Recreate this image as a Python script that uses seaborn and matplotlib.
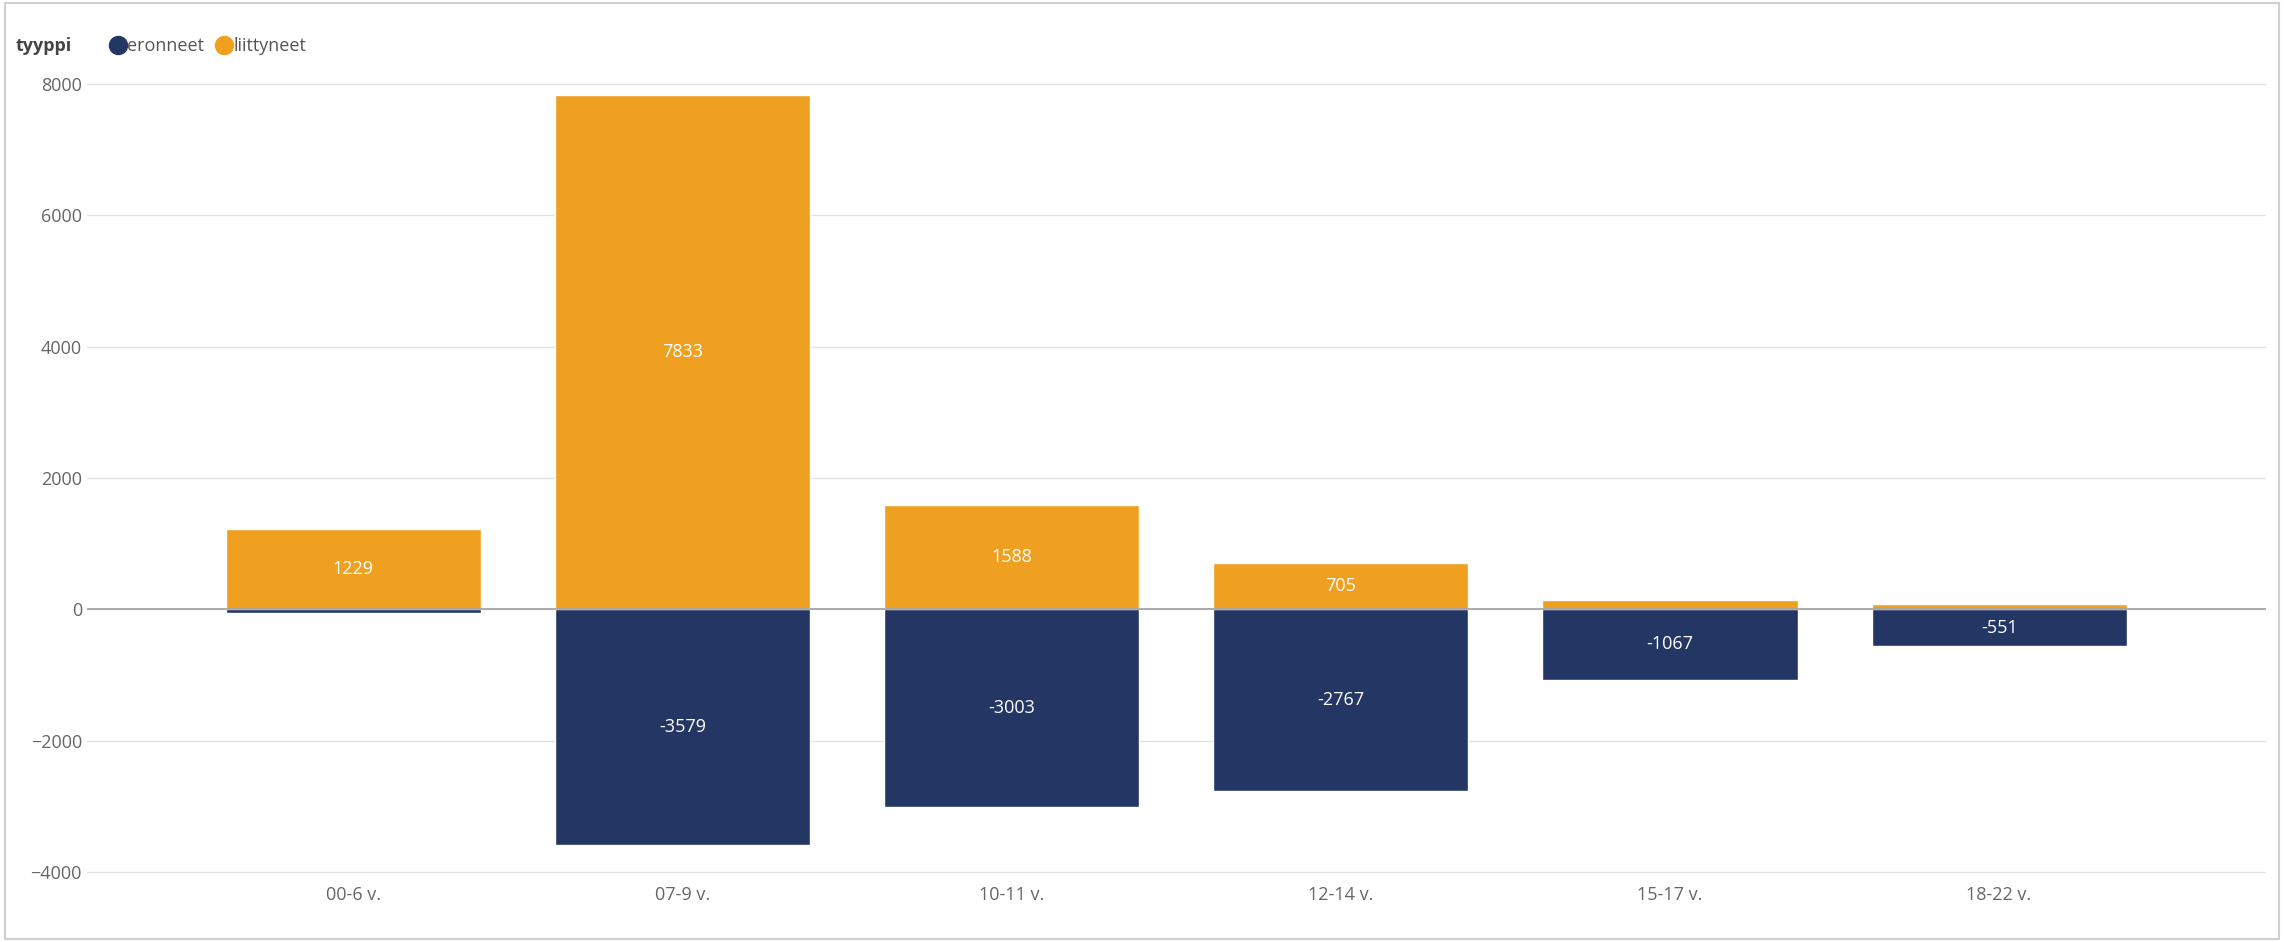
import matplotlib
matplotlib.use("Agg")
import matplotlib.pyplot as plt
import seaborn as sns
import pandas as pd
from matplotlib.lines import Line2D

categories = ["00-6 v.", "07-9 v.", "10-11 v.", "12-14 v.", "15-17 v.", "18-22 v."]
liittyneet = [1229, 7833, 1588, 705, 150, 75]
eronneet = [-60, -3579, -3003, -2767, -1067, -551]
label_liitt = ["1229", "7833", "1588", "705", "", ""]
label_eron = ["", "-3579", "-3003", "-2767", "-1067", "-551"]

sns.set_theme(style="white")
plt.rcParams['font.family'] = ['Open Sans', 'DejaVu Sans']

orange = "#EFA020"
navy = "#243664"
fig = plt.figure(figsize=(22.84, 9.42), dpi=100)
ax = fig.add_axes([0.038, 0.065, 0.954, 0.86])
df = pd.DataFrame({"cat": categories, "l": liittyneet, "e": eronneet})
sns.barplot(data=df, x="cat", y="l", color=orange, saturation=1, width=0.775, ax=ax)
sns.barplot(data=df, x="cat", y="e", color=navy, saturation=1, width=0.775, ax=ax)
ax.set_xlim(-0.81, 5.81)
ax.set_ylim(-4130, 8200)
ax.set_yticks([-4000, -2000, 0, 2000, 4000, 6000, 8000])
ax.grid(axis="y", color="#E3E3E3", lw=1)
ax.set_axisbelow(True)
ax.axhline(0, color="#A0A0A0", lw=1.2)
for s in ax.spines.values():
    s.set_visible(False)
ax.set_xlabel(""); ax.set_ylabel("")
ax.tick_params(axis="both", colors="#666666", labelsize=13, length=0)
for i in range(len(categories)):
    if label_liitt[i]:
        ax.text(i, liittyneet[i] / 2, label_liitt[i], color="white", ha="center", va="center", fontsize=13)
    if label_eron[i]:
        ax.text(i, eronneet[i] / 2, label_eron[i], color="white", ha="center", va="center", fontsize=13)

fig.text(0.007, 0.951, "tyyppi", fontsize=13, fontweight="bold", color="#444444", va="center")
handles = [Line2D([], [], marker="o", ls="", color=navy, markersize=13),
           Line2D([], [], marker="o", ls="", color=orange, markersize=13)]
fig.legend(handles, ["eronneet", "liittyneet"], loc="center left", bbox_to_anchor=(0.04, 0.951),
           ncol=2, frameon=False, fontsize=13, handletextpad=-0.1, columnspacing=0.5,
           handlelength=1.2, labelcolor="#555555")
border = plt.Rectangle((0.002, 0.003), 0.996, 0.994, transform=fig.transFigure, fill=False, ec="#D0D0D0", lw=1.5)
fig.patches.append(border)
fig.savefig("out.png", dpi=100)
